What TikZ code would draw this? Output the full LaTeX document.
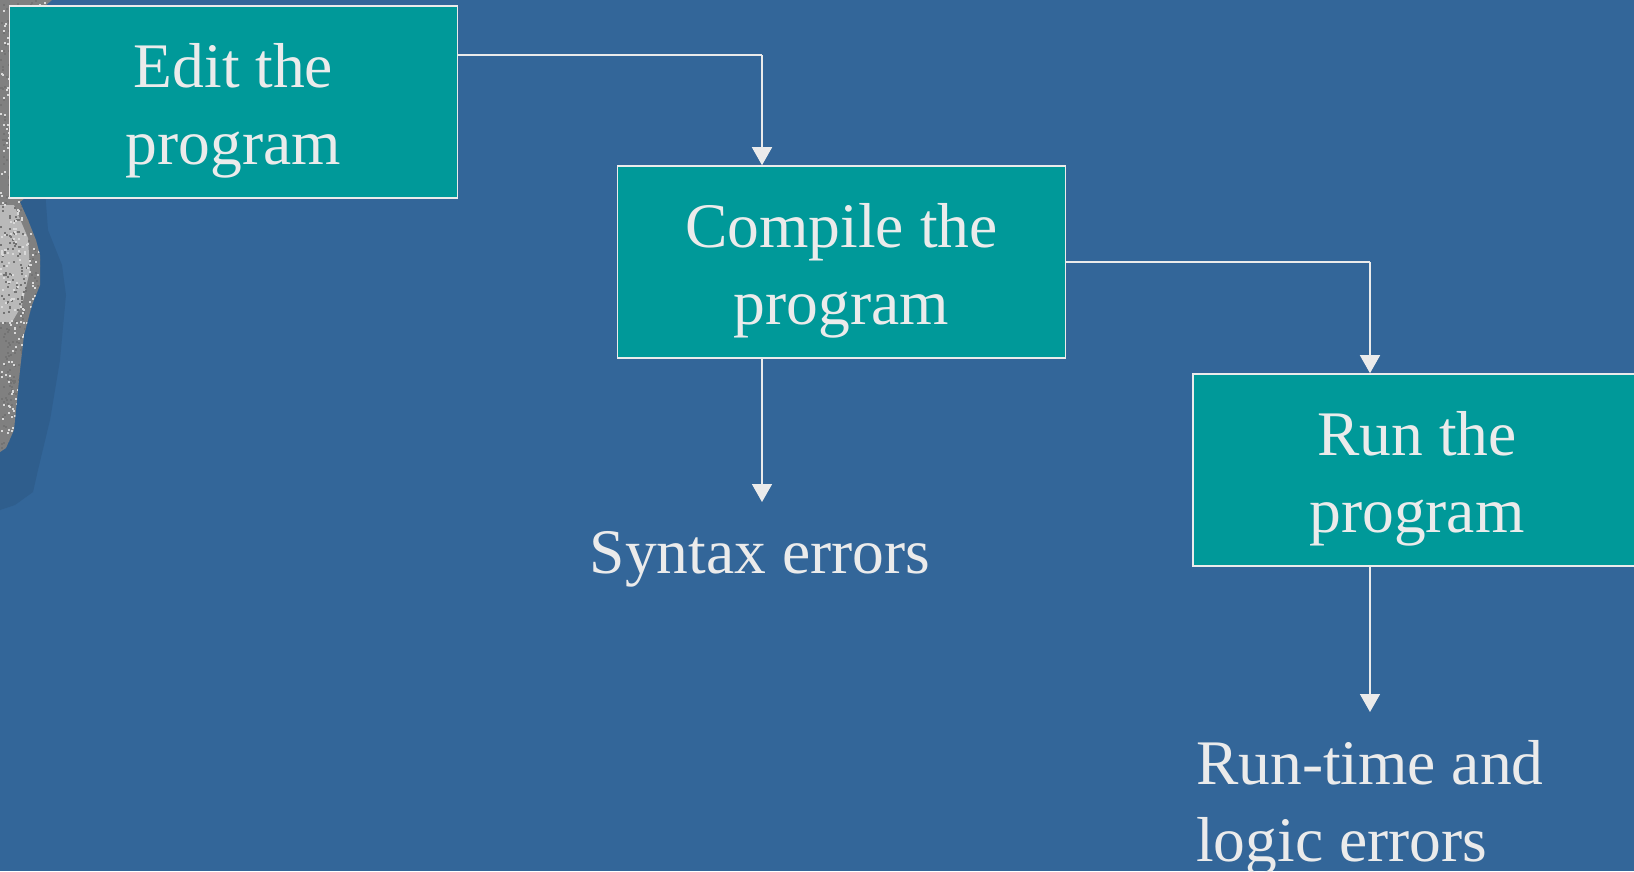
\documentclass[tikz,border=0pt]{standalone}
\usepackage{fontspec}
\setmainfont{Liberation Serif}
\usetikzlibrary{arrows.meta,calc}
\definecolor{bgblue}{RGB}{51,102,153}
\definecolor{boxteal}{RGB}{0,153,153}
\definecolor{ink}{RGB}{235,235,235}
\definecolor{shadowblue}{RGB}{47,94,141}
\definecolor{stone}{RGB}{128,128,128}
\definecolor{stonelight}{RGB}{185,185,185}
\begin{document}
\begin{tikzpicture}[x=1pt,y=-1pt,
  stepbox/.style={draw=ink, line width=1.6pt, fill=boxteal, minimum width=448pt, minimum height=192pt, inner sep=0pt},
  boxtext/.style={text=ink, font=\fontsize{63.5}{77}\selectfont, align=center, inner sep=0pt},
  errtext/.style={text=ink, font=\fontsize{63.5}{77}\selectfont, inner sep=0pt},
  conn/.style={draw=ink, line width=1.6pt, -{Triangle[width=20pt,length=18pt]}},
  link/.style={draw=ink, line width=1.6pt}]
\useasboundingbox (0,0) rectangle (1634,871);
\clip (0,0) rectangle (1634,871);
\fill[bgblue] (0,0) rectangle (1634,871);
% left decoration: shadow and stone
\fill[shadowblue] (0,190) -- (45,190) -- (48,230) -- (62,265) -- (66,295) -- (60,360) -- (50,420) -- (38,470) -- (33,492) -- (15,505) -- (0,510) -- cycle;
\begin{scope}
\path[clip] (0,0) -- (52,0) -- (40,10) -- (25,198) -- (20,202) -- (28,220) -- (36,240) -- (40,255) -- (40,285) -- (32,305) -- (24,335) -- (20,370) -- (14,430) -- (6,448) -- (0,452) -- cycle;
\fill[stone] (0,0) rectangle (60,460);
\fill[stonelight] (0,205) -- (14,205) -- (28,238) -- (30,270) -- (22,305) -- (12,322) -- (0,322) -- cycle;
\pgfmathsetseed{7}
\foreach \i in {1,...,700}{
  \pgfmathsetmacro{\px}{rnd*55}
  \pgfmathsetmacro{\py}{rnd*455}
  \fill[black!55] (\px,\py) rectangle ++(2,2);
}
\foreach \i in {1,...,500}{
  \pgfmathsetmacro{\px}{rnd*55}
  \pgfmathsetmacro{\py}{rnd*455}
  \fill[white!85!black] (\px,\py) rectangle ++(2,2);
}
\end{scope}
% boxes
\node[stepbox] (b1) at (233.5,102) {};
\node[stepbox] (b2) at (841.5,262) {};
\node[stepbox] (b3) at (1417,470) {};
\node[boxtext] (t1) at (233.5,110.7) {Edit the\\program};
\node[boxtext] (t2) at (841.5,270.7) {Compile the\\program};
\node[boxtext] (t3) at (1417,478.7) {Run the\\program};
\node[errtext, anchor=base] (syn) at (760,573) {Syntax errors};
\node[errtext, align=left, anchor=north west] (rte) at (1196,740) {Run-time and\\logic errors};
% junction coordinates
\coordinate (j1) at (762,55);
\coordinate (j2) at (1370,262);
\coordinate (e1) at (762,502);
\coordinate (e2) at (1370,712);
% connectors
\draw[link] (b1.east |- j1) -- (j1);
\draw[conn] (j1) -- (j1 |- b2.north);
\draw[link] (b2.east) -- (j2);
\draw[conn] (j2) -- (j2 |- b3.north);
\draw[conn] (j1 |- b2.south) -- (e1);
\draw[conn] (j2 |- b3.south) -- (e2);
\end{tikzpicture}
\end{document}
